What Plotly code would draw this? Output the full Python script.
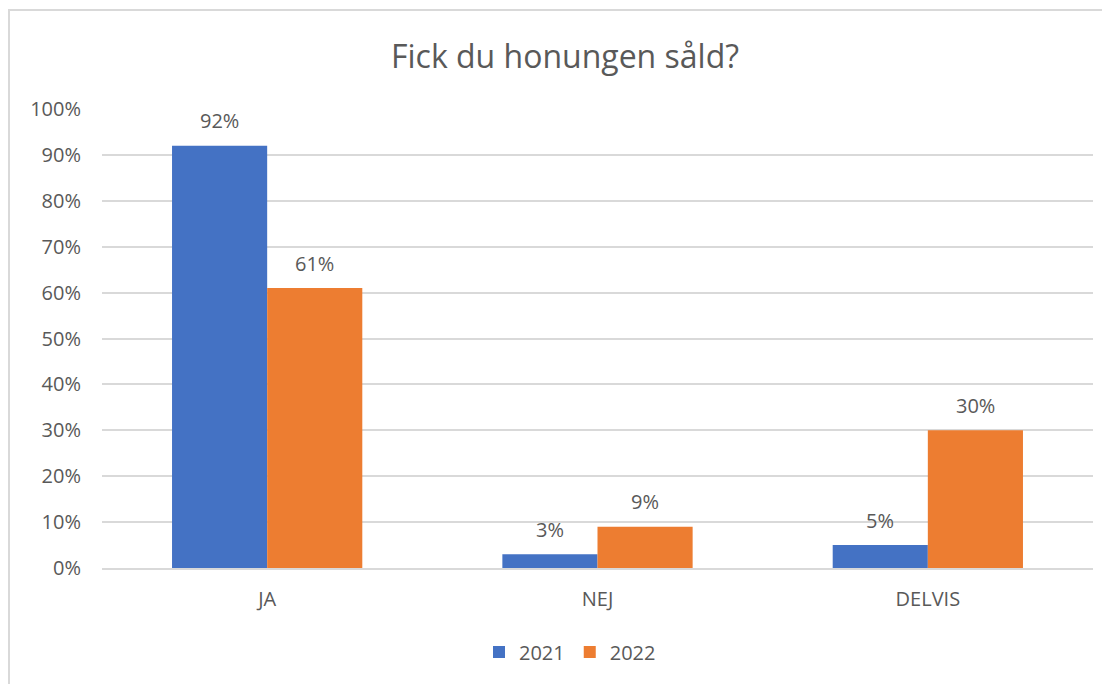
import plotly.graph_objects as go

categories = ["JA", "NEJ", "DELVIS"]
series_2021 = [0.92, 0.03, 0.05]
series_2022 = [0.61, 0.09, 0.30]
tick_vals = [0, 0.1, 0.2, 0.3, 0.4, 0.5, 0.6, 0.7, 0.8, 0.9, 1.0]
tick_text = ["0%", "10%", "20%", "30%", "40%", "50%", "60%", "70%", "80%", "90%", "100%"]

txt = "#595959"
font = "'Open Sans', sans-serif"
FS = 20

# page body has 8px margin -> compensate
OFF = 8
L, T = 102 - OFF, 109 - OFF
PW, PH = 1093 - 102, 568 - 109
W, H = 1110, 684
R = W - L - PW
B = H - T - PH

fig = go.Figure()
fig.add_trace(go.Bar(name="2021", x=categories, y=series_2021,
                     marker=dict(color="#4472C4", line=dict(width=0))))
fig.add_trace(go.Bar(name="2022", x=categories, y=series_2022,
                     marker=dict(color="#ED7D31", line=dict(width=0))))

bargap = 0.424
half = (1 - bargap) / 4  # offset of each bar centre from category centre
for k, (series, sign) in enumerate([(series_2021, -1), (series_2022, 1)]):
    for i, v in enumerate(series):
        fig.add_annotation(x=i + sign * half, y=v, xref="x", yref="y",
                           text=f"{round(v*100)}%", showarrow=False,
                           yanchor="middle", yshift=25,
                           font=dict(size=FS, color=txt, family=font))

fig.update_layout(
    width=W, height=H,
    margin=dict(l=L, r=R, t=T, b=B),
    paper_bgcolor="white", plot_bgcolor="white",
    title=dict(text="Fick du honungen såld?", x=(565 - OFF) / W, xanchor="center",
               y=1 - (57 - OFF) / H, yanchor="middle",
               font=dict(size=32, color=txt, family=font)),
    barmode="group", bargap=bargap, bargroupgap=0,
    font=dict(family=font, color=txt, size=FS),
    legend=dict(orientation="h", x=(570 - 102) / PW, xanchor="center", y=-(652 - 568) / PH,
                yanchor="middle", font=dict(size=FS, color=txt, family=font),
                traceorder="normal"),
    showlegend=True,
)
fig.update_yaxes(range=[0, 1.0], tickvals=tick_vals, ticktext=tick_text,
                 showgrid=True, gridcolor="#D9D9D9", gridwidth=1.5,
                 zeroline=False, showline=False, ticks="", ticklen=0,
                 ticklabelstandoff=20,
                 tickfont=dict(size=FS, color=txt, family=font))
fig.update_xaxes(showline=True, linecolor="#D9D9D9", linewidth=1.5,
                 ticks="", ticklabelstandoff=12,
                 tickfont=dict(size=FS, color=txt, family=font))

# chart area border (left and top visible)
fig.add_shape(type="rect", xref="paper", yref="paper",
              x0=(9 - 102) / PW, x1=(1130 - 102) / PW, y0=-(710 - 568) / PH, y1=(568 - 10) / PH,
              line=dict(color="#D9D9D9", width=2), fillcolor="rgba(0,0,0,0)", layer="below")

fig.write_html("out.html")
